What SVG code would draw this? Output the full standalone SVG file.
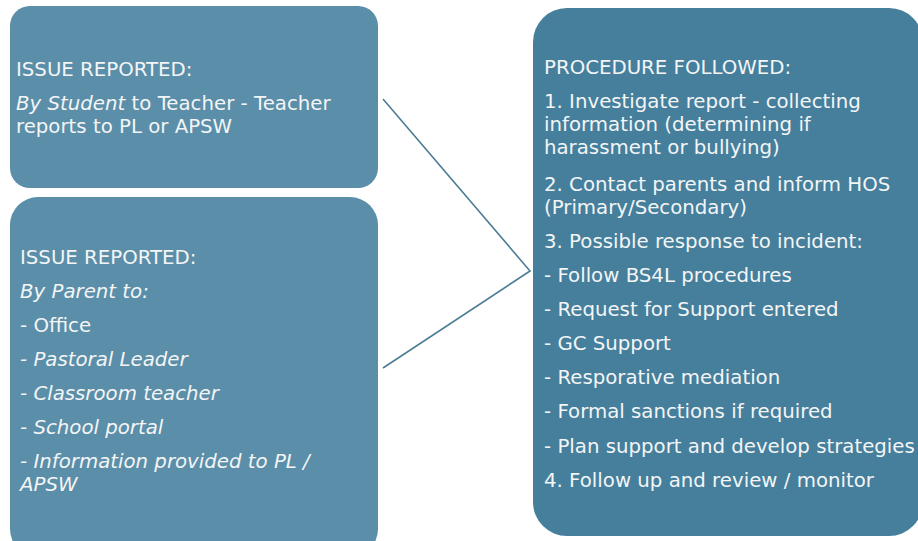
<svg xmlns="http://www.w3.org/2000/svg" width="918" height="541" viewBox="0 0 918 541">
  <style>
    .src { fill: #5b8ea8; }
    .dst { fill: #457f9c; }
    .lbl { font-family: "DejaVu Sans", Verdana, sans-serif; font-size: 19.75px; fill: #f3f5f6; }
    .it { font-style: italic; }
    .link { fill: none; stroke: #4d7c96; stroke-width: 1.6; }
  </style>
  <rect width="918" height="541" fill="#ffffff"/>

  <g id="student-report">
    <rect class="src" x="10" y="6" width="368" height="182" rx="20"/>
    <text class="lbl" x="16" y="76">ISSUE REPORTED:</text>
    <text class="lbl" x="16" y="110"><tspan class="it">By Student</tspan> to Teacher - Teacher</text>
    <text class="lbl" x="16" y="133">reports to PL or APSW</text>
  </g>

  <g id="parent-report">
    <rect class="src" x="10" y="197" width="368" height="360" rx="28"/>
    <text class="lbl" x="20" y="264">ISSUE REPORTED:</text>
    <text class="lbl it" x="20" y="298">By Parent to:</text>
    <text class="lbl" x="20" y="332">- Office</text>
    <text class="lbl it" x="20" y="366">- Pastoral Leader</text>
    <text class="lbl it" x="20" y="400">- Classroom teacher</text>
    <text class="lbl it" x="20" y="434">- School portal</text>
    <text class="lbl it" x="20" y="468">- Information provided to PL /</text>
    <text class="lbl it" x="20" y="491">APSW</text>
  </g>

  <g id="procedure">
    <rect class="dst" x="533" y="8" width="390" height="528" rx="34"/>
    <text class="lbl" x="544" y="74">PROCEDURE FOLLOWED:</text>
    <text class="lbl" x="544" y="108">1. Investigate report - collecting</text>
    <text class="lbl" x="544" y="131">information (determining if</text>
    <text class="lbl" x="544" y="154">harassment or bullying)</text>
    <text class="lbl" x="544" y="191">2. Contact parents and inform HOS</text>
    <text class="lbl" x="544" y="214">(Primary/Secondary)</text>
    <text class="lbl" x="544" y="248">3. Possible response to incident:</text>
    <text class="lbl" x="544" y="282">- Follow BS4L procedures</text>
    <text class="lbl" x="544" y="316">- Request for Support entered</text>
    <text class="lbl" x="544" y="350">- GC Support</text>
    <text class="lbl" x="544" y="384">- Resporative mediation</text>
    <text class="lbl" x="544" y="418">- Formal sanctions if required</text>
    <text class="lbl" x="544" y="453">- Plan support and develop strategies</text>
    <text class="lbl" x="544" y="487">4. Follow up and review / monitor</text>
  </g>

  <g id="connectors">
    <polyline class="link" points="383,99 530,271 383,368"/>
  </g>
</svg>
